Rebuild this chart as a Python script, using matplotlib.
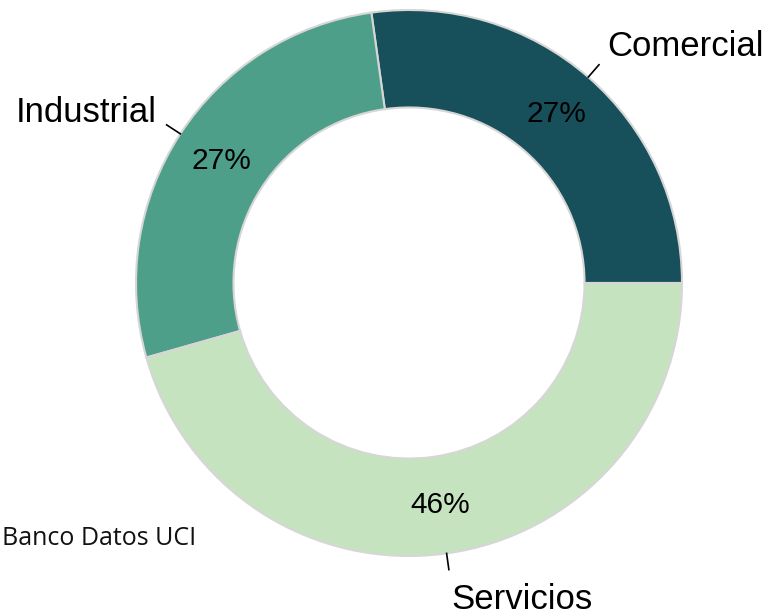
import numpy as np
import matplotlib
matplotlib.use("Agg")
import matplotlib.pyplot as plt

# datos del grafico
categorias = ["Comercial", "Industrial", "Servicios"]
porcentajes = [27.2, 27.2, 45.6]
colores = ["#174f5a", "#4e9f8a", "#c6e3c0"]
fuente = "Banco Datos UCI"

plt.rcParams["font.family"] = ["Liberation Sans", "DejaVu Sans"]

fig = plt.figure(figsize=(7.7, 6.16), dpi=100)
ax = fig.add_axes([0, 0, 1, 1])

wedges, _, autotexts = ax.pie(
  porcentajes,
  colors=colores,
  startangle=0,
  counterclock=True,
  autopct="%.0f%%",
  pctdistance=0.82,
  radius=1.0,
  wedgeprops=dict(width=0.357, edgecolor="#d6d6d6", linewidth=1.5),
  textprops=dict(fontsize=21.5, color="black"),
)

# etiquetas externas con linea guia
for w, nombre in zip(wedges, categorias):
  ang = np.deg2rad((w.theta1 + w.theta2) / 2)
  x0, y0 = 1.0 * np.cos(ang), 1.0 * np.sin(ang)
  x1, y1 = 1.06 * np.cos(ang), 1.06 * np.sin(ang)
  ax.plot([x0, x1], [y0, y1], color="black", lw=1.2)
  if np.sin(ang) < 0:
    ha, dx, dy = "left", 2, -28
  elif np.cos(ang) >= 0:
    ha, dx, dy = "left", 6, 6
  else:
    ha, dx, dy = "right", -7, 2
  ax.annotate(nombre, xy=(x1, y1), xytext=(dx, dy), textcoords="offset points",
              ha=ha, va="baseline", fontsize=25)

# fuente de los datos, pegada al borde izquierdo
fig.text(2 / 770, 1 - 545 / 616, fuente, ha="left", va="baseline",
         fontsize=18, family=["Open Sans", "DejaVu Sans"], color="#111111")

ax.set_aspect("auto")
ax.set_xlim(-409 / 273, (770 - 409) / 273)
ax.set_ylim(-(616 - 283) / 273, 283 / 273)
ax.axis("off")

fig.savefig("out.png", dpi=100)
